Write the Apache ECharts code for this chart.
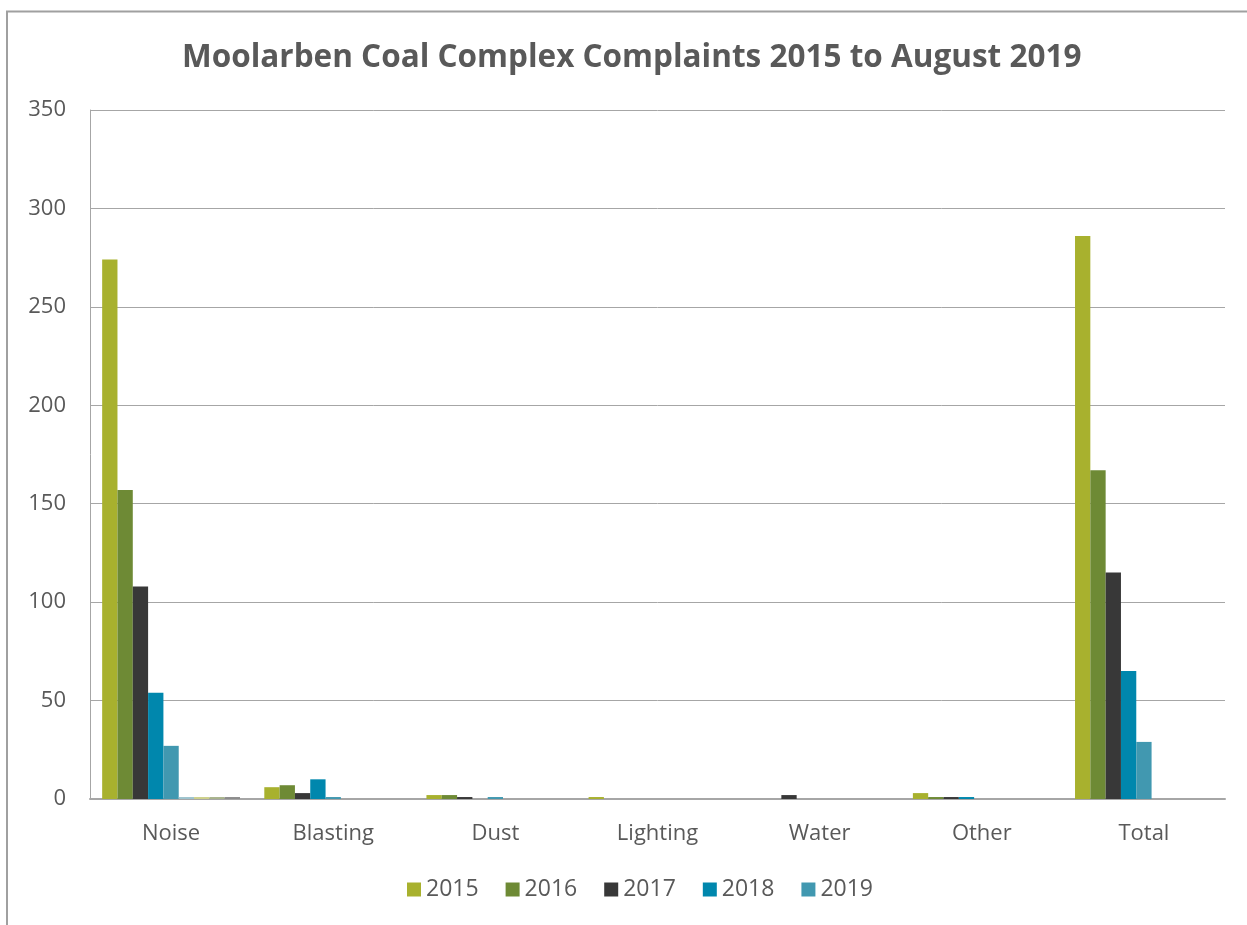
<!DOCTYPE html>
<html>
<head>
<meta charset="utf-8">
<script src="https://cdn.jsdelivr.net/npm/echarts@6/dist/echarts.min.js"></script>
<style>
  html, body { margin: 0; padding: 0; background: #fff; }
  #main { width: 1247px; height: 925px; }
</style>
</head>
<body>
<div id="main"></div>
<script>
var categories = ['Noise', 'Blasting', 'Dust', 'Lighting', 'Water', 'Other', 'Total'];
var years = ['2015', '2016', '2017', '2018', '2019'];
var v2015 = [274, 6, 2, 1, 0, 3, 286];
var v2016 = [157, 7, 2, 0, 0, 1, 167];
var v2017 = [108, 3, 1, 0, 2, 1, 115];
var v2018 = [54, 10, 0, 0, 0, 1, 65];
var v2019 = [27, 1, 1, 0, 0, 0, 29];
// faint extra series not shown in the legend
var extraA = [1, 0, 0, 0, 0, 0, 0];
var extraB = [1, 0, 0, 0, 0, 0, 0];
var extraC = [1, 0, 0, 0, 0, 0, 0];
var extraD = [1, 0, 0, 0, 0, 0, 0];

var colors = ['#a8b12e', '#6e8a35', '#383838', '#0087ad', '#4198b0'];
var extraColors = ['#9dc3ce', '#cdd08a', '#a8b38c', '#8c8c8c'];

var chart = echarts.init(document.getElementById('main'));

function bar(name, data, color) {
  return {
    name: name,
    type: 'bar',
    data: data,
    barGap: '0%',
    barCategoryGap: '15%',
    itemStyle: { color: color },
    emphasis: { disabled: true }
  };
}

var series = [
  bar('2015', v2015, colors[0]),
  bar('2016', v2016, colors[1]),
  bar('2017', v2017, colors[2]),
  bar('2018', v2018, colors[3]),
  bar('2019', v2019, colors[4]),
  bar('s6', extraA, extraColors[0]),
  bar('s7', extraB, extraColors[1]),
  bar('s8', extraC, extraColors[2]),
  bar('s9', extraD, extraColors[3])
];

var option = {
  animation: false,
  backgroundColor: '#fff',
  title: {
    text: 'Moolarben Coal Complex Complaints 2015 to August 2019',
    left: 177,
    top: 37,
    textStyle: { fontFamily: 'Open Sans', fontWeight: 'bold', fontSize: 31.5, color: '#595959' }
  },
  graphic: [{
    type: 'polyline',
    shape: { points: [[7, 930], [7, 11.5], [1250, 11.5]] },
    style: { stroke: '#a0a0a0', lineWidth: 2, fill: null }
  }],
  legend: {
    data: years,
    bottom: 19,
    left: 402,
    icon: 'rect',
    itemWidth: 14,
    itemHeight: 14,
    itemGap: 27,
    textStyle: { fontFamily: 'Open Sans', fontSize: 23, color: '#595959' }
  },
  grid: { left: 90, right: 22, top: 110, bottom: 126 },
  xAxis: {
    type: 'category',
    data: categories,
    axisLine: { lineStyle: { color: '#a6a6a6', width: 2 } },
    axisTick: { show: false },
    axisLabel: { fontFamily: 'Open Sans', fontSize: 22, color: '#595959', margin: 24 }
  },
  yAxis: {
    type: 'value',
    min: 0,
    max: 350,
    interval: 50,
    axisLine: { show: true, lineStyle: { color: '#a6a6a6', width: 1 } },
    axisTick: { show: false },
    splitLine: { lineStyle: { color: '#a6a6a6', width: 1 } },
    axisLabel: { fontFamily: 'Open Sans', fontSize: 22, color: '#595959', margin: 24 }
  },
  series: series
};

chart.setOption(option);
</script>
</body>
</html>
